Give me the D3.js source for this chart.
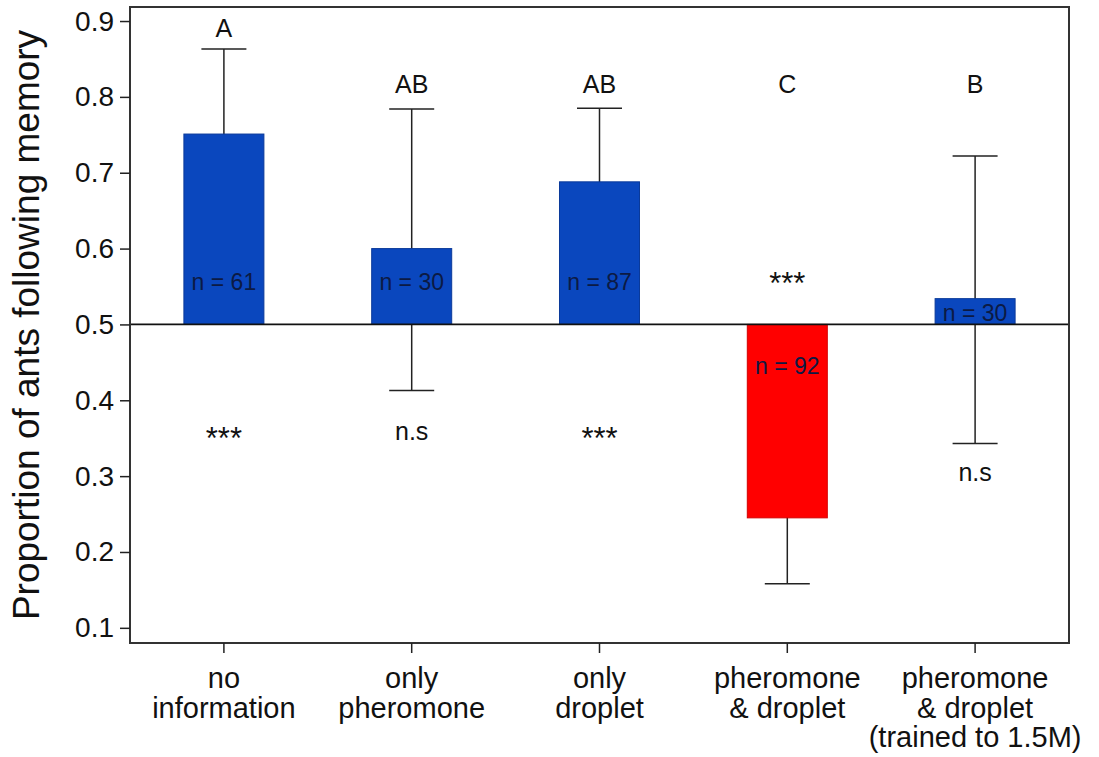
<!DOCTYPE html>
<html>
<head>
<meta charset="utf-8">
<script src="https://cdn.jsdelivr.net/npm/d3@7"></script>
<style>
  body { margin: 0; background: #fff; }
  svg { display: block; font-family: "Liberation Sans", Arial, sans-serif; }
  .axis path, .axis line { stroke: #222; stroke-width: 1.5px; }
  .axis text { fill: #111; }
</style>
</head>
<body>
<script>
// categories (one entry per line of the label)
var categories = [
  ["no", "information"],
  ["only", "pheromone"],
  ["only", "droplet"],
  ["pheromone", "& droplet"],
  ["pheromone", "& droplet", "(trained to 1.5M)"]
];
var means = [0.751, 0.600, 0.688, 0.245, 0.534];
var errHigh = [0.863, 0.784, 0.785, 0.330, 0.722];
var errLow = [0.630, 0.413, 0.580, 0.158, 0.343];
var sampleSizes = [61, 30, 87, 92, 30];
var groupLetters = ["A", "AB", "AB", "C", "B"];
var significance = ["***", "n.s", "***", "***", "n.s"];
var yTicks = [0.1, 0.2, 0.3, 0.4, 0.5, 0.6, 0.7, 0.8, 0.9];
var baseline = 0.5;

var width = 1099, height = 757;
var margin = {left: 130, right: 30, top: 7, bottom: 114};

var data = means.map(function(m, i){
  return {i: i, mean: m, hi: errHigh[i], lo: errLow[i], n: sampleSizes[i],
          letter: groupLetters[i], sig: significance[i], label: categories[i]};
});

var svg = d3.select("body").append("svg")
  .attr("width", width).attr("height", height);

var x = d3.scaleBand()
  .domain(d3.range(categories.length))
  .range([margin.left, width - margin.right])
  .paddingInner(0.574)
  .paddingOuter(0.287);

var y = d3.scaleLinear()
  .domain([0.08, 0.9185])
  .range([height - margin.bottom, margin.top]);

var cx = function(d){ return x(d.i) + x.bandwidth() / 2; };
var capHalf = 22.5;

// error bars (drawn behind bars)
var eb = svg.append("g").attr("stroke", "#222").attr("stroke-width", 1.5);
eb.selectAll("line.stem").data(data).enter().append("line")
  .attr("x1", cx).attr("x2", cx)
  .attr("y1", function(d){ return y(d.hi); })
  .attr("y2", function(d){ return y(d.lo); });
eb.selectAll("line.capHi").data(data).enter().append("line")
  .attr("x1", function(d){ return cx(d) - capHalf; })
  .attr("x2", function(d){ return cx(d) + capHalf; })
  .attr("y1", function(d){ return y(d.hi); })
  .attr("y2", function(d){ return y(d.hi); });
eb.selectAll("line.capLo").data(data).enter().append("line")
  .attr("x1", function(d){ return cx(d) - capHalf; })
  .attr("x2", function(d){ return cx(d) + capHalf; })
  .attr("y1", function(d){ return y(d.lo); })
  .attr("y2", function(d){ return y(d.lo); });

// bars from the 0.5 line
svg.append("g").selectAll("rect").data(data).enter().append("rect")
  .attr("x", function(d){ return x(d.i); })
  .attr("width", x.bandwidth())
  .attr("y", function(d){ return y(Math.max(d.mean, baseline)); })
  .attr("height", function(d){ return Math.abs(y(d.mean) - y(baseline)); })
  .attr("fill", function(d){ return d.mean >= baseline ? "#0a47be" : "#ff0000"; })
  .attr("stroke", function(d){ return d.mean >= baseline ? "#0a3a9a" : "#d40000"; })
  .attr("stroke-width", 1);

// 0.5 reference line
svg.append("line")
  .attr("x1", margin.left).attr("x2", width - margin.right)
  .attr("y1", y(baseline)).attr("y2", y(baseline))
  .attr("stroke", "#111").attr("stroke-width", 1.8);

// sample size labels
svg.append("g").selectAll("text").data(data).enter().append("text")
  .attr("x", cx)
  .attr("y", function(d){
    if (d.mean < baseline) return y(baseline) + 50;
    if (d.mean < 0.56) return y(baseline) - 3;   // short bar: sit on the line
    return y(0.545);
  })
  .attr("text-anchor", "middle")
  .attr("font-size", 23)
  .attr("fill", "#0c1a44")
  .text(function(d){ return "n = " + d.n; });

// group letters
svg.append("g").selectAll("text").data(data).enter().append("text")
  .attr("x", cx)
  .attr("y", function(d){ return Math.min(y(0.805), y(d.hi) - 12); })
  .attr("text-anchor", "middle")
  .attr("font-size", 25)
  .attr("fill", "#111")
  .text(function(d){ return d.letter; });

// significance marks
svg.append("g").selectAll("text").data(data).enter().append("text")
  .attr("x", cx)
  .attr("y", function(d){
    if (d.mean < baseline) return y(baseline) - 30;
    var base = d.sig === "***" ? y(0.336) : y(0.347);
    return Math.max(base, y(d.lo) + 37);
  })
  .attr("text-anchor", "middle")
  .attr("font-size", function(d){ return d.sig === "***" ? 31 : 25; })
  .attr("fill", "#111")
  .text(function(d){ return d.sig; });

// plot frame
svg.append("rect")
  .attr("x", margin.left).attr("y", margin.top)
  .attr("width", width - margin.right - margin.left)
  .attr("height", height - margin.bottom - margin.top)
  .attr("fill", "none").attr("stroke", "#333").attr("stroke-width", 2);

// axes
var yAxis = d3.axisLeft(y).tickValues(yTicks).tickSize(10).tickPadding(6)
  .tickFormat(d3.format(".1f"));
svg.append("g").attr("class", "axis")
  .attr("transform", "translate(" + margin.left + ",0)")
  .call(yAxis)
  .call(function(g){ g.select(".domain").remove(); })
  .selectAll("text").attr("font-size", 28);

var xAxis = d3.axisBottom(x).tickSize(10).tickFormat("");
svg.append("g").attr("class", "axis")
  .attr("transform", "translate(0," + (height - margin.bottom) + ")")
  .call(xAxis)
  .call(function(g){ g.select(".domain").remove(); });

svg.append("g").selectAll("text").data(data).enter().append("text")
  .attr("x", cx)
  .attr("y", height - margin.bottom + 45)
  .attr("text-anchor", "middle")
  .attr("font-size", 29)
  .attr("fill", "#111")
  .each(function(d){
    var t = d3.select(this);
    d.label.forEach(function(line, k){
      t.append("tspan").attr("x", cx(d)).attr("dy", k === 0 ? 0 : 29.5).text(line);
    });
  });

// y axis title
svg.append("text")
  .attr("transform", "translate(39," + ((margin.top + height - margin.bottom) / 2) + ") rotate(-90)")
  .attr("text-anchor", "middle")
  .attr("font-size", 37)
  .attr("fill", "#111")
  .text("Proportion of ants following memory");
</script>
</body>
</html>
